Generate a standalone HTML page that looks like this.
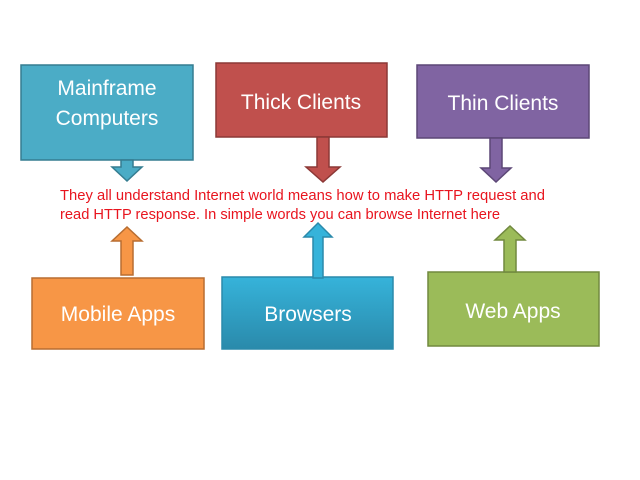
<!DOCTYPE html>
<html><head><style>body{margin:0;background:#fff;}svg{display:block}</style></head><body>
<svg width="640" height="480" xmlns="http://www.w3.org/2000/svg" font-family="Liberation Sans, sans-serif">
<defs><linearGradient id="g" x1="0" y1="0" x2="0" y2="1"><stop offset="0" stop-color="#36b3da"/><stop offset="1" stop-color="#2a8aab"/></linearGradient></defs>
<g stroke-width="1.5">
<rect x="21" y="65" width="172" height="95" fill="#4BACC6" stroke="#357d91"/>
<rect x="216" y="63" width="171" height="74" fill="#C0504D" stroke="#8c3836"/>
<rect x="417" y="65" width="172" height="73" fill="#8064A2" stroke="#5c4776"/>
<rect x="32" y="278" width="172" height="71" fill="#F79646" stroke="#b86d30"/>
<rect x="222" y="277" width="171" height="72" fill="url(#g)" stroke="#2a8aab"/>
<rect x="428" y="272" width="171" height="74" fill="#9BBB59" stroke="#71893f"/>
<polygon points="121,160 133,160 133,167 142,167 127,181 112,167 121,167" fill="#4BACC6" stroke="#357d91"/>
<polygon points="317,137 329,137 329,167 340,167 323,182 306,167 317,167" fill="#C0504D" stroke="#8c3836"/>
<polygon points="490,138 502,138 502,168 511,168 496,182 481,168 490,168" fill="#8064A2" stroke="#5c4776"/>
<polygon points="121,275 133,275 133,241 142,241 127,227 112,241 121,241" fill="#F79646" stroke="#b86d30"/>
<polygon points="313,278 323,278 323,237 332,237 318,223 304,237 313,237" fill="#36b3da" stroke="#2a8aab"/>
<polygon points="504,272 516,272 516,240 525,240 510,226 495,240 504,240" fill="#9BBB59" stroke="#71893f"/>
</g>
<g fill="#fff" font-size="21" text-anchor="middle">
<text x="107" y="95">Mainframe</text>
<text x="107" y="125">Computers</text>
<text x="301" y="109">Thick Clients</text>
<text x="503" y="110">Thin Clients</text>
<text x="118" y="321">Mobile Apps</text>
<text x="308" y="321">Browsers</text>
<text x="513" y="318">Web Apps</text>
</g>
<g fill="#e8141e" font-size="15">
<text x="60" y="200" textLength="485" lengthAdjust="spacingAndGlyphs">They all understand Internet world means how to make HTTP request and</text>
<text x="60" y="219" textLength="440" lengthAdjust="spacingAndGlyphs">read HTTP response. In simple words you can browse Internet here</text>
</g>
</svg>
</body></html>
